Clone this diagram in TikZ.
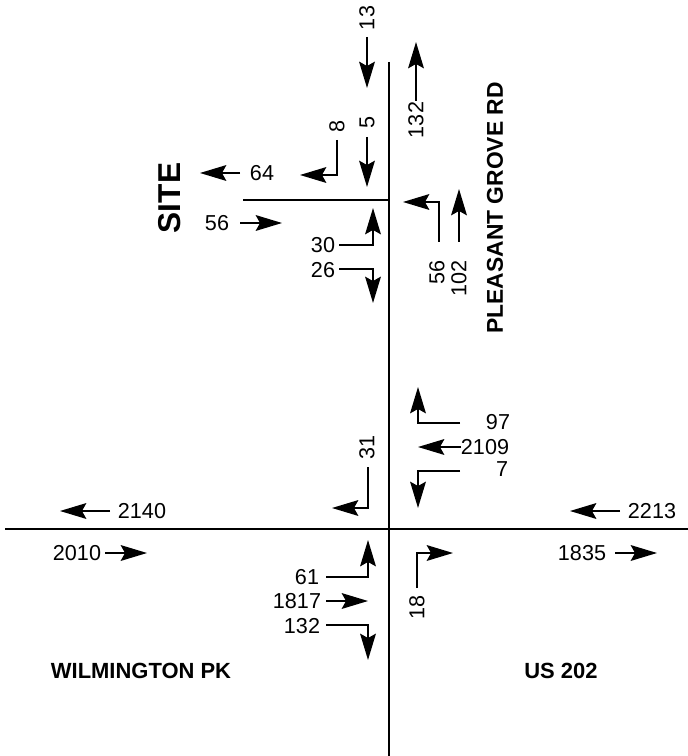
\documentclass[tikz,border=0pt]{standalone}
\usepackage{fontspec}
\setmainfont{Liberation Sans}
\usetikzlibrary{arrows.meta}

\begin{document}
\begin{tikzpicture}[
  x=0.02cm,y=-0.02cm,
  road/.style={line width=1pt},
  move/.style={line width=.8pt,-{Stealth[length=15pt,width=9pt,inset=2.5pt]}},
  volume/.style={inner sep=0pt,font=\fontsize{12.3}{14}\selectfont},
  upvolume/.style={volume,rotate=90},
  street/.style={inner sep=0pt,font=\fontsize{12.5}{15}\selectfont\bfseries}
]
  \useasboundingbox (0,0) rectangle (688,756);

  % roads
  \draw[road] (389,62) -- (389,756);
  \draw[road] (5,529) -- (688,529);
  \draw[road] (243,200) -- (389,200);

  % road names
  \node[street,rotate=90,font=\fontsize{18}{20}\selectfont\bfseries] (site) at (170,198) {SITE};
  \node[street,rotate=90,font=\fontsize{13}{15}\selectfont\bfseries] (pgrd) at (495,208) {PLEASANT GROVE RD};
  \node[street] (wpk) at (141,671) {WILMINGTON PK};
  \node[street] (us) at (561,671) {US 202};

  % site driveway
  \node[upvolume] (sbthru) at (367,18) {13};
  \draw[move] (367,37) -- (367,88);
  \node[upvolume] (nbthru) at (416,120) {132};
  \draw[move] (416,101) -- (416,42);
  \node[upvolume] (sbright) at (337,126) {8};
  \draw[move] (337,140) |- (300,175);
  \node[upvolume] (sbthru2) at (367,122) {5};
  \draw[move] (367,137) -- (367,187);
  \node[volume] (siteout) at (262,173) {64};
  \draw[move] (240,173) -- (200,173);
  \node[volume] (sitein) at (217,223) {56};
  \draw[move] (240,223) -- (282,223);
  \node[volume] (wbleft) at (323,245) {30};
  \draw[move] (339,245) -| (373,208);
  \node[volume] (wbright) at (323,270) {26};
  \draw[move] (339,269) -| (373,303);
  \node[upvolume,anchor=east] (nbleft) at (437,260) {56};
  \draw[move] (439,242) |- (403,202);
  \node[upvolume,anchor=east] (nbthru2) at (459,260) {102};
  \draw[move] (459,242) -- (459,189);

  % us 202 / wilmington pk
  \node[volume] (wbr) at (498,422) {97};
  \draw[move] (460,423) -| (418,387);
  \node[volume] (wbt) at (485,447) {2109};
  \draw[move] (461,447) -- (418,447);
  \node[volume] (wbl) at (502,469) {7};
  \draw[move] (460,471) -| (418,508);
  \node[upvolume] (sbr) at (367,447) {31};
  \draw[move] (368,467) |- (332,508);
  \node[volume] (wout) at (142,511) {2140};
  \draw[move] (110,511) -- (60,511);
  \node[volume] (eout) at (652,511) {2213};
  \draw[move] (620,511) -- (570,511);
  \node[volume] (win) at (77,553) {2010};
  \draw[move] (105,553) -- (147,553);
  \node[volume] (ein) at (582,553) {1835};
  \draw[move] (615,553) -- (657,553);
  \node[volume] (ebl) at (307,577) {61};
  \draw[move] (326,577) -| (368,540);
  \node[volume] (ebt) at (297,601) {1817};
  \draw[move] (326,601) -- (368,601);
  \node[volume] (ebr) at (302,626) {132};
  \draw[move] (326,625) -| (368,660);
  \node[upvolume] (nbr) at (417,607) {18};
  \draw[move] (417,588) |- (453,553);
\end{tikzpicture}
\end{document}
